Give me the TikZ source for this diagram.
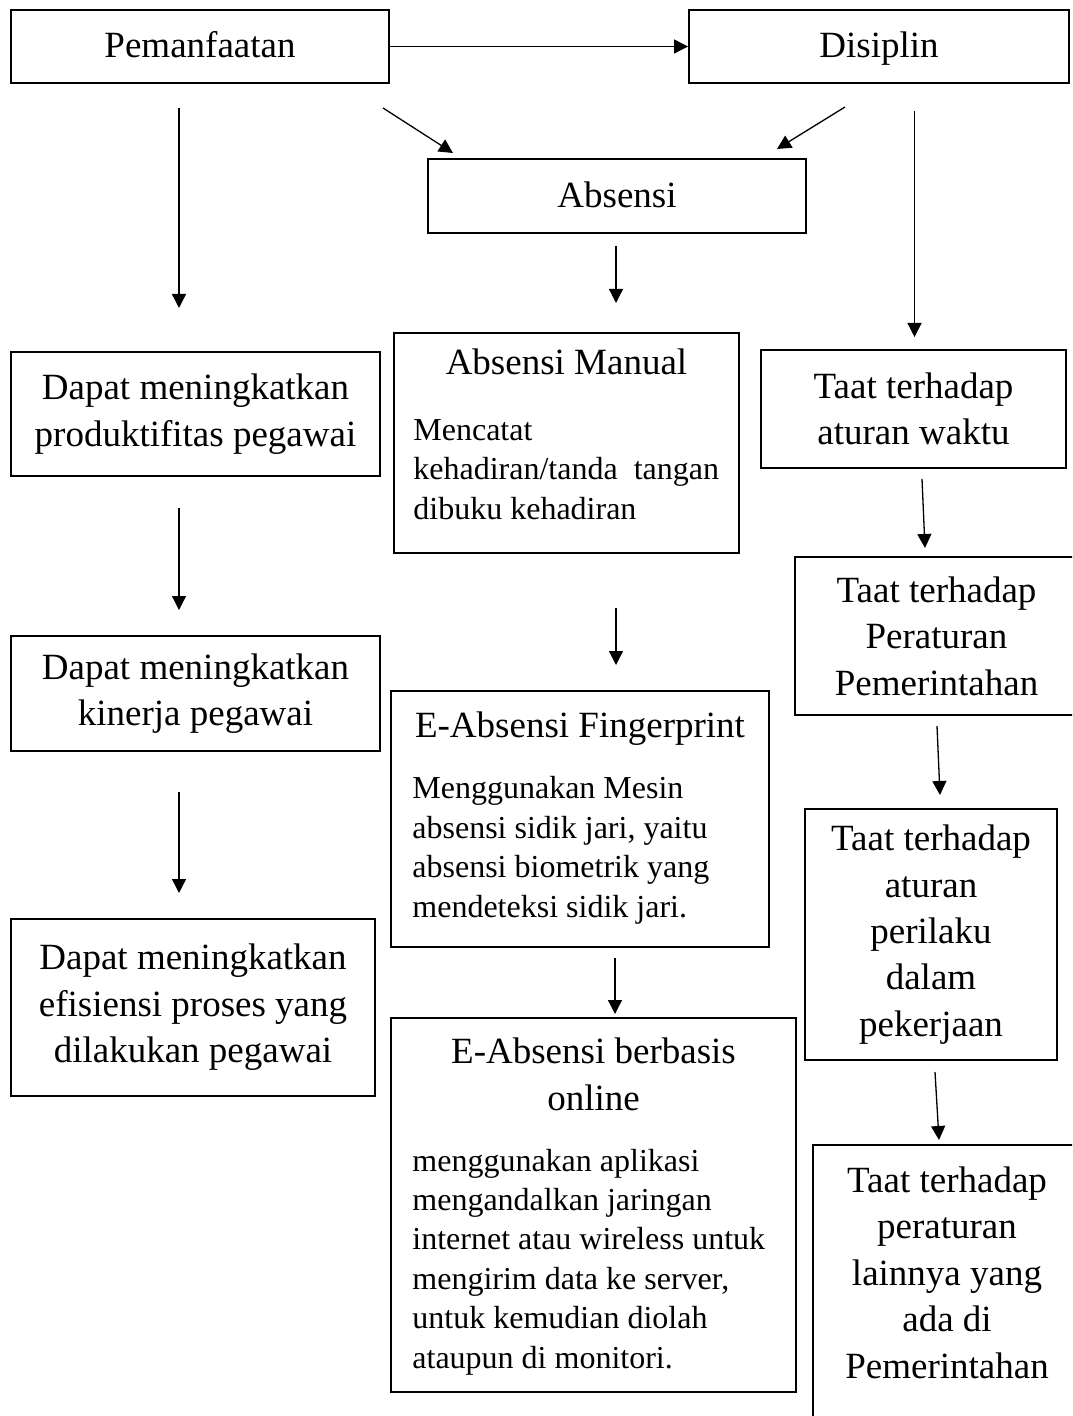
\documentclass[tikz,border=0pt]{standalone}
\usepackage{fontspec}
\setmainfont{Liberation Serif}
\usepackage{tikz}
\usetikzlibrary{arrows.meta,positioning}

\newcommand{\bigtxt}{\fontsize{18.5pt}{23.2pt}\selectfont}
\newcommand{\smalltxt}{\fontsize{16pt}{19.7pt}\selectfont}

\begin{document}
\begin{tikzpicture}[
  x=0.5pt, y=0.5pt,
  box/.style={draw, line width=1pt, inner sep=0pt, align=center,
              font=\bigtxt},
  onebox/.style={draw, line width=1pt, inner sep=0pt, font=\bigtxt,
                 text height=14.5pt, text depth=3pt},
  ttl/.style={inner sep=0pt, align=center, font=\bigtxt},
  desc/.style={inner sep=0pt, align=left, font=\smalltxt},
  arr/.style={draw, line width=0.65pt, -{Triangle[length=7pt,width=7pt]}}
]
\useasboundingbox (0,0) rectangle (1072,-1416);
\clip (0,0) rectangle (1072,-1416);

% top row
\node[onebox, minimum width=189pt, minimum height=36.5pt] (pem) at (200,-46.5) {Pemanfaatan};
\node[onebox, minimum width=190pt, minimum height=36.5pt] (dis) at (879,-46.5) {Disiplin};
\node[onebox, minimum width=189pt, minimum height=37pt] (abs) at (617,-196) {Absensi};

% left column
\node[box, minimum width=184.5pt, minimum height=62pt] (prod) at (195.5,-414)
  {Dapat meningkatkan\\produktifitas pegawai};
\node[box, minimum width=184.5pt, minimum height=57.5pt] (kin) at (195.5,-693.5)
  {Dapat meningkatkan\\kinerja pegawai};
\node[box, minimum width=182pt, minimum height=88.5pt] (eff) at (193,-1007.5)
  {Dapat meningkatkan\\efisiensi proses yang\\dilakukan pegawai};

% middle column (text set apart in each box, base = last line)
\node[box, minimum width=172.5pt, minimum height=110pt] (man) at (566.5,-443) {};
\node[ttl, anchor=base] (manT) at (566.5,-375) {Absensi Manual};
\node[desc, anchor=base west] (manD) at (413,-519)
  {Mencatat\\kehadiran/tanda~ tangan\\dibuku kehadiran};

\node[box, minimum width=189pt, minimum height=128pt] (fin) at (580,-819) {};
\node[ttl, anchor=base] (finT) at (580,-737) {E-Absensi Fingerprint};
\node[desc, anchor=base west] (finD) at (412,-917)
  {Menggunakan Mesin\\absensi sidik jari, yaitu\\absensi biometrik yang\\mendeteksi sidik jari.};

\node[box, minimum width=202.5pt, minimum height=187pt] (onl) at (593.5,-1205) {};
\node[ttl, anchor=base] (onlT) at (593.5,-1110) {E-Absensi berbasis\\online};
\node[desc, anchor=base west] (onlD) at (412,-1368)
  {menggunakan aplikasi\\mengandalkan jaringan\\internet atau wireless untuk\\mengirim data ke server,\\untuk kemudian diolah\\ataupun di monitori.};

% right column
\node[box, minimum width=152.5pt, minimum height=59pt] (wak) at (913.5,-409)
  {Taat terhadap\\aturan waktu};
\node[box, minimum width=141.5pt, minimum height=79pt] (pp) at (936.5,-636)
  {Taat terhadap\\Peraturan\\Pemerintahan};
\node[box, minimum width=126pt, minimum height=125.5pt] (per) at (931,-934.5)
  {Taat terhadap\\aturan\\perilaku\\dalam\\pekerjaan};
\node[box, minimum width=134pt, minimum height=147.5pt] (lai) at (947,-1292.5) {};
\node[ttl, anchor=base] (laiT) at (947,-1378)
  {Taat terhadap\\peraturan\\lainnya yang\\ada di\\Pemerintahan};

% arrow ends
\coordinate (pemR) at (383,-108);   \coordinate (absL) at (453,-153);
\coordinate (disL) at (845,-107);   \coordinate (absR) at (777,-149);
\coordinate (pemS) at (179,-108);   \coordinate (prodN) at (179,-308);
\coordinate (disS) at (914.5,-111); \coordinate (wakN) at (914.5,-337);
\coordinate (absS) at (616,-246);   \coordinate (manN) at (616,-303);
\coordinate (prodS) at (179,-508);  \coordinate (kinN) at (179,-610);
\coordinate (manS) at (616,-608);   \coordinate (finN) at (616,-665);
\coordinate (wakS) at (922,-479);   \coordinate (ppN) at (925,-548);
\coordinate (kinS) at (179,-792);   \coordinate (effN) at (179,-893);
\coordinate (ppS) at (937,-726);    \coordinate (perN) at (940,-795);
\coordinate (finS) at (615,-958);   \coordinate (onlN) at (615,-1014);
\coordinate (perS) at (935,-1072);  \coordinate (laiN) at (939,-1140);

\draw[arr] (pem) -- (dis);
\draw[arr] (pemR) -- (absL);
\draw[arr] (disL) -- (absR);
\draw[arr] (pemS) -- (prodN);
\draw[arr] (disS) -- (wakN);
\draw[arr] (absS) -- (manN);
\draw[arr] (prodS) -- (kinN);
\draw[arr] (manS) -- (finN);
\draw[arr] (wakS) -- (ppN);
\draw[arr] (kinS) -- (effN);
\draw[arr] (ppS) -- (perN);
\draw[arr] (finS) -- (onlN);
\draw[arr] (perS) -- (laiN);
\end{tikzpicture}
\end{document}
